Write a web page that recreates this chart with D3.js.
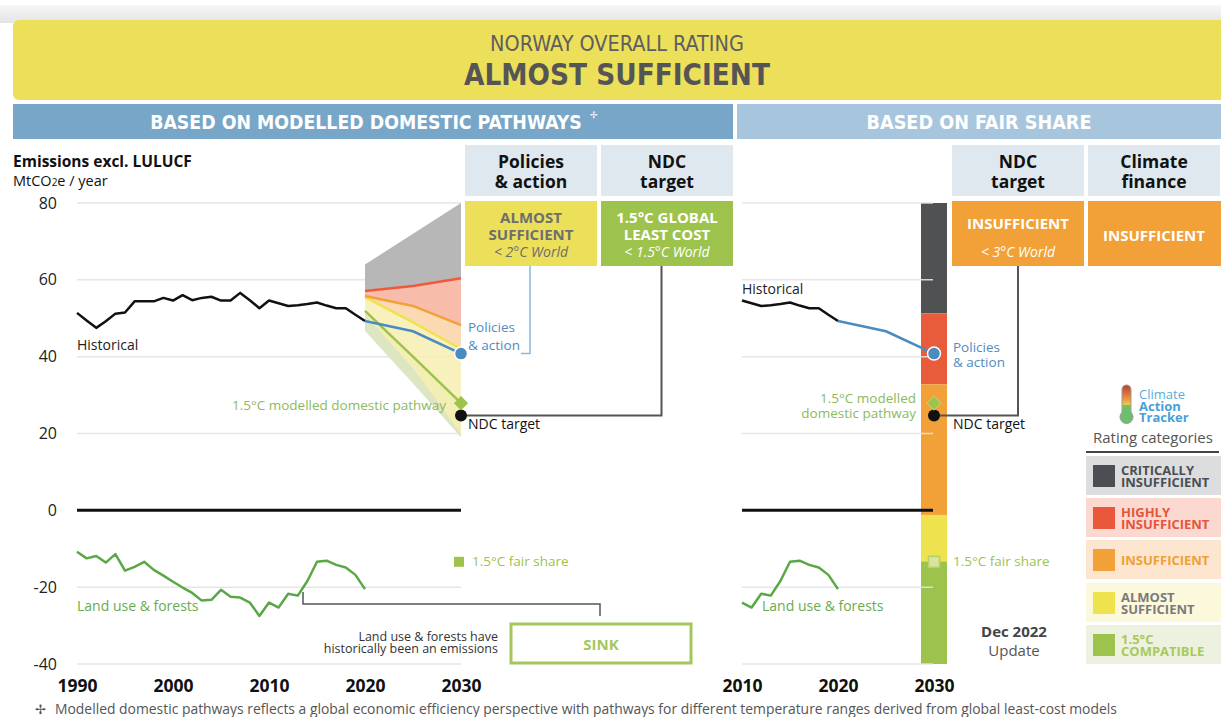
<!DOCTYPE html>
<html><head><meta charset="utf-8">
<script src="https://cdn.jsdelivr.net/npm/d3@7"></script>
<style>
html,body{margin:0;padding:0;background:#fff;}
svg{display:block;font-family:"Open Sans","Noto Sans",sans-serif;}
</style></head>
<body><svg id="c" width="1221" height="717"></svg>
<script>
// ---------------- DATA ----------------
const histYears = d3.range(1990, 2021);
const historical = [51.4,49.4,47.5,49.2,51.2,51.5,54.4,54.4,54.4,55.3,54.6,56.0,54.7,55.3,55.6,54.6,54.6,56.6,54.7,52.6,54.6,53.9,53.2,53.4,53.7,54.1,53.3,52.6,52.6,50.9,49.3];
const landUse = [-10.8,-12.5,-11.9,-13.6,-11.4,-15.7,-14.7,-13.4,-15.5,-17.0,-18.6,-20.1,-21.5,-23.5,-23.3,-20.7,-22.5,-22.7,-24.0,-27.5,-24.0,-25.3,-21.7,-22.2,-18.4,-13.4,-13.1,-14.2,-14.9,-16.8,-20.5];
const projYears = [2020, 2025, 2030];
const criticalTop = [64, 72, 80];
const highlyTop = [57.1, 58.4, 60.4];
const insufficientTop = [55.8, 53.2, 48.2];
const almostTop = [55.5, 48.9, 42.0];
const almostBottom = [51.0, 37.0, 20.0];
const compatibleTop = [51.9, 40.0, 27.9];
const compatibleBottom = [46.7, 33.0, 19.0];
const policies = [49.3, 46.6, 40.8];
const ndcTarget2030 = 24.7;
const modelled15_2030 = 27.9;
const fairShare15_2030 = -13.4;
const fairBounds = [80, 51.3, 32.8, -1.2, -13.3, -40];
const fairColors = ["#4f5153", "#e85c3c", "#f2a038", "#eee24e", "#9dc34c"];
const yTicks = [80, 60, 40, 20, 0, -20, -40];
const xTicksLeft = [1990, 2000, 2010, 2020, 2030];
const xTicksRight = [2010, 2020, 2030];
const ratingCats = [
  {lines:["CRITICALLY","INSUFFICIENT"], sw:"#4b4f53", bg:"#dcdddf", tc:"#4b4f53"},
  {lines:["HIGHLY","INSUFFICIENT"], sw:"#e9583a", bg:"#fbd8d0", tc:"#e5553a"},
  {lines:["INSUFFICIENT"], sw:"#f2a038", bg:"#fde6d0", tc:"#f0a035"},
  {lines:["ALMOST","SUFFICIENT"], sw:"#eee24e", bg:"#fcf8dc", tc:"#7a7a7a"},
  {lines:["1.5°C","COMPATIBLE"], sw:"#9dc34c", bg:"#edf2e0", tc:"#a9c95a"}
];

// ---------------- SETUP ----------------
const svg = d3.select("#c");
const y = d3.scaleLinear().domain([-40, 80]).range([664, 203]);
const xL = d3.scaleLinear().domain([1990, 2030]).range([77, 461]);
const xR = d3.scaleLinear().domain([2010, 2030]).range([742, 934]);
const narrow = '"Liberation Sans Narrow","DejaVu Sans Condensed","Open Sans",sans-serif';

function txt(g, x, yy, s, o) {
  o = o || {};
  const t = g.append("text").attr("x", x).attr("y", yy)
    .attr("font-size", o.size || 14).attr("fill", o.fill || "#222")
    .attr("text-anchor", o.anchor || "start");
  if (Array.isArray(s)) {
    s.forEach((line, i) => {
      const ts = t.append("tspan").attr("x", x).attr("dy", i === 0 ? 0 : (o.lh || 16)).text(line);
      if (o.styles && o.styles[i]) Object.entries(o.styles[i]).forEach(([k,v]) => ts.attr(k, v));
    });
  } else t.text(s);
  if (o.weight) t.attr("font-weight", o.weight);
  if (o.style) t.attr("font-style", o.style);
  if (o.family) t.attr("font-family", o.family);
  if (o.fit) { // scale font size so the natural width matches the target width
    const w = t.node().getComputedTextLength();
    if (w > 0) t.attr("font-size", (o.size || 14) * o.fit / w);
  }
  return t;
}

// ---------------- HEADER ----------------
const defs = svg.append("defs");
const tg = defs.append("linearGradient").attr("id","topg").attr("x1",0).attr("x2",0).attr("y1",0).attr("y2",1);
tg.append("stop").attr("offset","0%").attr("stop-color","#f7f7f7");
tg.append("stop").attr("offset","100%").attr("stop-color","#e3e4e5");
svg.append("rect").attr("x",0).attr("y",5).attr("width",1221).attr("height",18).attr("fill","url(#topg)");
svg.append("rect").attr("x",13).attr("y",20).attr("width",1220).attr("height",80).attr("rx",6).attr("fill","#ecdf5a");
txt(svg, 617, 51, "NORWAY OVERALL RATING", {size:20, fill:"#5e5e5e", anchor:"middle", family:narrow, fit:254});
txt(svg, 617, 85, "ALMOST SUFFICIENT", {size:31, fill:"#555", anchor:"middle", weight:"bold", family:narrow, fit:306});

svg.append("rect").attr("x",13).attr("y",104).attr("width",720).attr("height",35).attr("fill","#78a6c8");
svg.append("rect").attr("x",737).attr("y",104).attr("width",484).attr("height",35).attr("fill","#a7c6dd");
txt(svg, 366, 129, "BASED ON MODELLED DOMESTIC PATHWAYS", {size:20, fill:"#fff", anchor:"middle", weight:"bold", family:narrow, fit:432});
txt(svg, 590, 118, "✢", {size:9, fill:"#fff"});
txt(svg, 979, 129, "BASED ON FAIR SHARE", {size:20, fill:"#fff", anchor:"middle", weight:"bold", family:narrow, fit:225});

// column headers
const colHeads = [
  {x:465, l:["Policies","& action"]},
  {x:601, l:["NDC","target"]},
  {x:952, l:["NDC","target"]},
  {x:1088, l:["Climate","finance"]}
];
colHeads.forEach(c => {
  svg.append("rect").attr("x",c.x).attr("y",145).attr("width",132).attr("height",51).attr("fill","#dfe8ef");
  txt(svg, c.x+66, 168, c.l, {size:17.5, weight:"bold", fill:"#111", anchor:"middle", lh:20});
});
// rating boxes
svg.append("rect").attr("x",465).attr("y",201).attr("width",132).attr("height",65).attr("fill","#ecdf5a");
txt(svg, 531, 223, ["ALMOST","SUFFICIENT","< 2°C World"], {size:15, weight:"bold", fill:"#6e6e6e", anchor:"middle", lh:17,
  styles:[null,null,{"font-style":"italic","font-weight":"normal","font-size":14}]});
svg.append("rect").attr("x",601).attr("y",201).attr("width",132).attr("height",65).attr("fill","#9dc34c");
txt(svg, 667, 223, ["1.5°C GLOBAL","LEAST COST","< 1.5°C World"], {size:15, weight:"bold", fill:"#fff", anchor:"middle", lh:17,
  styles:[null,null,{"font-style":"italic","font-weight":"normal","font-size":14}]});
svg.append("rect").attr("x",952).attr("y",201).attr("width",132).attr("height",65).attr("fill","#f2a038");
txt(svg, 1018, 229, ["INSUFFICIENT","< 3°C World"], {size:15, weight:"bold", fill:"#fff", anchor:"middle", lh:28,
  styles:[null,{"font-style":"italic","font-weight":"normal","font-size":14}]});
svg.append("rect").attr("x",1088).attr("y",201).attr("width",133).attr("height",65).attr("fill","#f2a038");
txt(svg, 1154, 241, "INSUFFICIENT", {size:15, weight:"bold", fill:"#fff", anchor:"middle"});

// axis title
txt(svg, 13, 167, "Emissions excl. LULUCF", {size:15.5, weight:"bold", fill:"#111"});
const t2 = svg.append("text").attr("x",13).attr("y",186).attr("font-size",14.5).attr("fill","#111");
t2.append("tspan").text("MtCO");
t2.append("tspan").text("2").attr("font-size",10);
t2.append("tspan").text("e / year");

// ---------------- LEFT CHART ----------------
const L = svg.append("g");
L.selectAll("line.grid").data(yTicks.filter(d => d !== 0)).join("line")
  .attr("x1", xL(1990)).attr("x2", xL(2030)).attr("y1", d => y(d)).attr("y2", d => y(d))
  .attr("stroke", "#e5e5e5").attr("stroke-width", 1.5);

const yAx = L.append("g").attr("transform", `translate(${xL(1990)},0)`)
  .call(d3.axisLeft(y).tickValues(yTicks).tickFormat(d => String(d)).tickSize(0).tickPadding(20));
yAx.select(".domain").remove();
yAx.selectAll("text").attr("font-size", 16).attr("fill", "#222").attr("font-family", '"Open Sans",sans-serif');

const xAxL = L.append("g").attr("transform", "translate(0,672)")
  .call(d3.axisBottom(xL).tickValues(xTicksLeft).tickFormat(d3.format("d")).tickSize(0).tickPadding(8));
xAxL.select(".domain").remove();
xAxL.selectAll("text").attr("font-size", 17.5).attr("font-weight", "bold").attr("fill", "#111").attr("font-family", '"Open Sans",sans-serif');

// projection areas
function band(top, bot, color) {
  const pts = projYears.map((yr, i) => ({yr, t: top[i], b: bot[i]}));
  L.append("path").datum(pts).attr("fill", color)
    .attr("d", d3.area().x(d => xL(d.yr)).y0(d => y(d.b)).y1(d => y(d.t)));
}
band(compatibleTop, compatibleBottom, "#dde6c3");
band(almostTop, almostBottom, "rgba(247,239,178,0.85)");
band(insufficientTop, almostTop, "#fbd9b3");
band(highlyTop, insufficientTop, "#f8bcab");
band(criticalTop, highlyTop, "#b7b7b7");

const lineP = (arr) => d3.line().x((d, i) => xL(projYears[i])).y(d => y(d))(arr);
L.append("path").attr("d", lineP(compatibleTop)).attr("fill","none").attr("stroke","#9dc34c").attr("stroke-width",2.5);
L.append("path").attr("d", lineP(almostTop)).attr("fill","none").attr("stroke","#eee24e").attr("stroke-width",2.5);
L.append("path").attr("d", lineP(insufficientTop)).attr("fill","none").attr("stroke","#f2a038").attr("stroke-width",2.5);
L.append("path").attr("d", lineP(highlyTop)).attr("fill","none").attr("stroke","#ee5a3a").attr("stroke-width",2.5);

// zero line
L.append("line").attr("x1", xL(1990)).attr("x2", xL(2030)).attr("y1", y(0)).attr("y2", y(0)).attr("stroke","#111").attr("stroke-width",3);

// historical
L.append("path").datum(historical).attr("fill","none").attr("stroke","#111").attr("stroke-width",2.5).attr("stroke-linejoin","round")
  .attr("d", d3.line().x((d,i) => xL(histYears[i])).y(d => y(d)));
L.append("path").datum(policies).attr("fill","none").attr("stroke","#4a8bc0").attr("stroke-width",2.5)
  .attr("d", lineP(policies));
L.append("path").datum(landUse).attr("fill","none").attr("stroke","#5aa845").attr("stroke-width",2.5).attr("stroke-linejoin","round")
  .attr("d", d3.line().x((d,i) => xL(histYears[i])).y(d => y(d)));

// connectors
L.append("path").attr("d", `M530,266V${y(policies[2])}H521`).attr("fill","none").attr("stroke","#8ab8d8").attr("stroke-width",1.5);
L.append("path").attr("d", `M661.5,266V${y(ndcTarget2030)}H${xL(2030)}`).attr("fill","none").attr("stroke","#555").attr("stroke-width",2);

// markers
L.append("circle").attr("cx", xL(2030)).attr("cy", y(ndcTarget2030)).attr("r", 6).attr("fill","#111");
L.append("path").attr("transform", `translate(${xL(2030)},${y(modelled15_2030)}) rotate(45)`).attr("d","M-5,-5H5V5H-5Z").attr("fill","#9dc34c");
L.append("circle").attr("cx", xL(2030)).attr("cy", y(policies[2])).attr("r", 6.5).attr("fill","#4a8bc0").attr("stroke","#fff").attr("stroke-width",1.5);
L.append("rect").attr("x", xL(2030)-7).attr("y", y(fairShare15_2030)-5).attr("width",10).attr("height",10).attr("fill","#9dc34c");

// labels
txt(L, 77, 350, "Historical", {size:14, fill:"#222"});
txt(L, 446, 410, "1.5°C modelled domestic pathway", {size:13.5, fill:"#8dba5b", anchor:"end"});
txt(L, 468, 332, ["Policies","& action"], {size:13.5, fill:"#4f8cbf", lh:18});
txt(L, 468, 429, "NDC target", {size:14, fill:"#111"});
txt(L, 472, 566, "1.5°C fair share", {size:13.5, fill:"#9dc34c"});
txt(L, 77, 611, "Land use & forests", {size:14, fill:"#6aab50"});
L.append("path").attr("d","M303,592V604H600V616").attr("fill","none").attr("stroke","#555").attr("stroke-width",1.5);
txt(L, 498, 641, ["Land use & forests have","historically been an emissions"], {size:12.5, fill:"#333", anchor:"end", lh:12});
L.append("rect").attr("x",511).attr("y",624).attr("width",180).attr("height",39).attr("fill","none").attr("stroke","#a3c75a").attr("stroke-width",3);
txt(L, 601, 650, "SINK", {size:15, weight:"bold", fill:"#a3c75a", anchor:"middle"});

// ---------------- RIGHT CHART ----------------
const R = svg.append("g");
const segs = fairColors.map((c, i) => ({top: fairBounds[i], bot: fairBounds[i+1], c}));
R.selectAll("rect.seg").data(segs).join("rect")
  .attr("x", xR(2030)-13).attr("width", 26)
  .attr("y", d => y(d.top)).attr("height", d => y(d.bot) - y(d.top)).attr("fill", d => d.c);
R.selectAll("line.grid").data(yTicks.filter(d => d !== 0)).join("line")
  .attr("x1", xR(2010)).attr("x2", xR(2030)-1).attr("y1", d => y(d)).attr("y2", d => y(d))
  .attr("stroke", "#e3e3e3").attr("stroke-width", 1.5).attr("stroke-opacity", 0.9);
const xAxR = R.append("g").attr("transform", "translate(0,672)")
  .call(d3.axisBottom(xR).tickValues(xTicksRight).tickFormat(d3.format("d")).tickSize(0).tickPadding(8));
xAxR.select(".domain").remove();
xAxR.selectAll("text").attr("font-size", 17.5).attr("font-weight", "bold").attr("fill", "#111").attr("font-family", '"Open Sans",sans-serif');

R.append("line").attr("x1", xR(2010)).attr("x2", xR(2030)-1).attr("y1", y(0)).attr("y2", y(0)).attr("stroke","#111").attr("stroke-width",3);
const hR = histYears.map((yr,i) => ({yr, v: historical[i], l: landUse[i]})).filter(d => d.yr >= 2010);
R.append("path").datum(hR).attr("fill","none").attr("stroke","#111").attr("stroke-width",2.5).attr("stroke-linejoin","round")
  .attr("d", d3.line().x(d => xR(d.yr)).y(d => y(d.v)));
R.append("path").datum(hR).attr("fill","none").attr("stroke","#5aa845").attr("stroke-width",2.5).attr("stroke-linejoin","round")
  .attr("d", d3.line().x(d => xR(d.yr)).y(d => y(d.l)));
R.append("path").attr("fill","none").attr("stroke","#4a8bc0").attr("stroke-width",2.5)
  .attr("d", d3.line().x((d,i) => xR(projYears[i])).y(d => y(d))(policies));

R.append("path").attr("d", `M1018,266V${y(ndcTarget2030)}H${xR(2030)}`).attr("fill","none").attr("stroke","#555").attr("stroke-width",2);
R.append("circle").attr("cx", xR(2030)).attr("cy", y(ndcTarget2030)).attr("r", 6).attr("fill","#111");
R.append("path").attr("transform", `translate(${xR(2030)},${y(modelled15_2030)}) rotate(45)`).attr("d","M-5,-5H5V5H-5Z").attr("fill","#9dc34c").attr("stroke","#c5d98a").attr("stroke-width",0.8);
R.append("circle").attr("cx", xR(2030)).attr("cy", y(policies[2])).attr("r", 6.5).attr("fill","#4a8bc0").attr("stroke","#fff").attr("stroke-width",1.5);
R.append("rect").attr("x", xR(2030)-5.5).attr("y", y(fairShare15_2030)-5.5).attr("width",11).attr("height",11).attr("fill","#d9e49a").attr("stroke","#b9cf6e").attr("stroke-width",1.5);

txt(R, 742, 294, "Historical", {size:14, fill:"#222"});
txt(R, 953, 352, ["Policies","& action"], {size:13.5, fill:"#4f8cbf", lh:15});
txt(R, 916, 403, ["1.5°C modelled","domestic pathway"], {size:13.5, fill:"#8dba5b", anchor:"end", lh:15});
txt(R, 953, 429, "NDC target", {size:14, fill:"#111"});
txt(R, 953, 566, "1.5°C fair share", {size:13.5, fill:"#9dc34c"});
txt(R, 762, 611, "Land use & forests", {size:14, fill:"#6aab50"});
txt(R, 1014, 637, ["Dec 2022","Update"], {size:15, fill:"#444", anchor:"middle", lh:19,
  styles:[{"font-weight":"bold"},{"fill":"#555"}]});

// ---------------- LEGEND ----------------
const G = svg.append("g");
const th = defs.append("linearGradient").attr("id","thg").attr("x1",0).attr("x2",0).attr("y1",0).attr("y2",1);
[["0%","#b8412e"],["35%","#e8813a"],["65%","#e8d44a"],["100%","#6cbf6e"]].forEach(s => th.append("stop").attr("offset",s[0]).attr("stop-color",s[1]));
G.append("rect").attr("x",1122).attr("y",385).attr("width",9).attr("height",32).attr("rx",4.5).attr("fill","url(#thg)").attr("stroke","#9a9a9a").attr("stroke-width",1);
G.append("circle").attr("cx",1126.5).attr("cy",417).attr("r",6.5).attr("fill","#6cbf6e").attr("stroke","#9a9a9a").attr("stroke-width",1);
G.append("rect").attr("x",1122.5).attr("y",405).attr("width",8).attr("height",10).attr("fill","#6cbf6e");
txt(G, 1139, 399, ["Climate","Action","Tracker"], {size:13, fill:"#4a9fd6", lh:11.5,
  styles:[{"fill":"#5aabdc"},{"font-weight":"bold"},{"font-weight":"bold"}]});
txt(G, 1153, 443, "Rating categories", {size:15, fill:"#555", anchor:"middle"});
G.append("line").attr("x1",1086).attr("x2",1219).attr("y1",452).attr("y2",452).attr("stroke","#444").attr("stroke-width",2);
const rowTops = [456, 498, 540, 583, 625];
ratingCats.forEach((c, i) => {
  const t = rowTops[i];
  G.append("rect").attr("x",1086).attr("y",t).attr("width",135).attr("height",39).attr("fill",c.bg);
  G.append("rect").attr("x",1093).attr("y",t+9).attr("width",22).attr("height",22).attr("fill",c.sw);
  if (c.lines.length === 2) {
    txt(G, 1121, t+19, c.lines, {size:13, weight:"bold", fill:c.tc, lh:12});
  } else {
    txt(G, 1121, t+25, c.lines[0], {size:13, weight:"bold", fill:c.tc});
  }
});

// ---------------- FOOTER ----------------
txt(svg, 35, 714, "✢", {size:13, fill:"#555"});
txt(svg, 55, 714, "Modelled domestic pathways reflects a global economic efficiency perspective with pathways for different temperature ranges derived from global least-cost models", {size:13.9, fill:"#555"});
</script></body></html>
